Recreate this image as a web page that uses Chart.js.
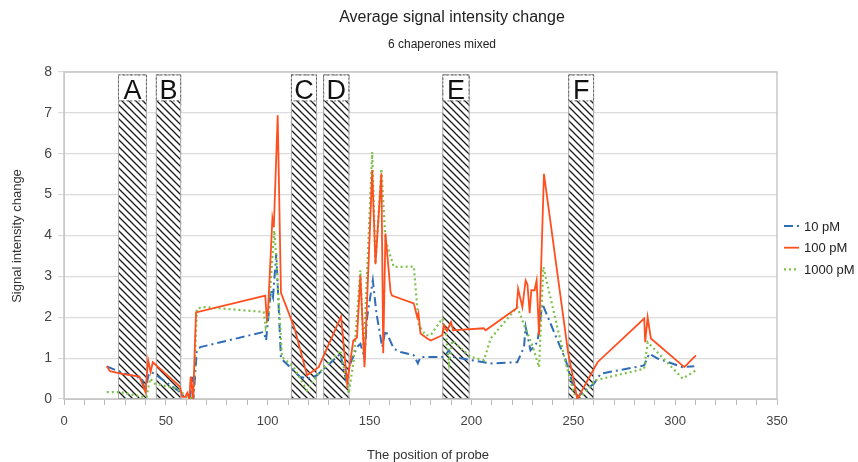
<!DOCTYPE html>
<html>
<head>
<meta charset="utf-8">
<script src="https://cdn.jsdelivr.net/npm/chart.js@4"></script>
<style>
  body { margin: 0; background: #fff; }
  canvas { display: block; }
</style>
</head>
<body>
<canvas id="chart" width="858" height="462"></canvas>
<script>
// probe positions and signal values
const pos10 = [21, 27.5, 38.2, 39.8, 41.5, 43, 56.2, 57.9, 62, 62.8, 63.6, 65.2, 66.9, 98, 99.2, 101.6, 102.6, 104.2, 104.8, 106.5, 116, 120, 124.2, 135.7, 138.2, 140.6, 143.8, 145.5, 147.5, 148.8, 151.6, 153.4, 156.2, 157.8, 161.9, 165.2, 171.7, 173.7, 175, 186.5, 189, 190.6, 209.4, 222.5, 225.8, 226.6, 229, 232.4, 234.8, 246.3, 249.6, 252, 260.2, 263.5, 284.8, 287.3, 291.4, 303.7, 309.4];
const val10 = [0.8, 0.66, 0.5, 0.21, 0.58, 0.66, 0.2, 0.09, 0.05, 0.54, 0.02, 1.19, 1.27, 1.64, 1.43, 2.66, 2.49, 3.56, 2.9, 0.99, 0.54, 0.5, 0.58, 1.11, 0.5, 0.87, 1.27, 1.35, 1.0, 2.0, 2.9, 2.09, 1.27, 1.68, 1.23, 1.15, 1.07, 0.87, 1.03, 1.03, 1.19, 1.03, 0.87, 0.9, 1.27, 1.76, 1.19, 1.39, 2.33, 0.95, 0.38, 0.05, 0.38, 0.62, 0.82, 1.11, 0.99, 0.78, 0.8];

const pos100 = [21, 22.6, 28, 37, 40, 41.3, 42.5, 43.6, 57, 58, 59.5, 60.5, 61.5, 62.2, 63.4, 64.8, 98.8, 99.5, 100.2, 102.3, 103, 104.9, 106.5, 113, 119.3, 125, 136, 139, 142, 143.8, 145.5, 147.5, 151.3, 152.9, 155.8, 156.7, 157.8, 160.3, 161, 171.7, 173.4, 174, 175, 178.3, 180, 185.7, 186.5, 188, 190, 191, 206, 207, 222.2, 222.9, 225, 226.6, 227.5, 228.6, 229.4, 231, 232, 233.2, 235.6, 247.5, 252, 261.9, 284.8, 285.3, 286.5, 288.1, 304.5, 310.2];
const val100 = [0.8, 0.68, 0.62, 0.55, 0.17, 0.95, 0.66, 0.9, 0.3, 0.05, 0.05, 0.15, 0, 0.55, 0, 2.12, 2.53, 2.0, 2.2, 4.42, 4.2, 6.94, 2.6, 1.76, 0.58, 0.78, 2.02, 0.38, 1.43, 1.5, 3.02, 0.78, 5.6, 3.3, 5.52, 1.12, 4.05, 2.62, 2.53, 2.34, 2.0, 2.1, 1.6, 1.48, 1.43, 1.56, 1.8, 1.67, 1.88, 1.68, 1.73, 1.68, 2.22, 2.7, 2.25, 2.9, 2.8, 2.1, 2.66, 2.66, 2.9, 1.56, 5.51, 1.12, 0.0, 0.9, 1.97, 1.39, 2.0, 1.48, 0.78, 1.07];

const pos1000 = [21, 27.5, 39, 40.5, 42.3, 44.7, 55.4, 60.3, 63.6, 65.2, 68.4, 98, 99, 100.4, 103.2, 104, 107, 112.7, 119.3, 124.2, 135.7, 138.2, 139.8, 142.2, 145.5, 147.1, 151.3, 152.9, 155.8, 157.8, 161.9, 171.7, 174.2, 177.5, 180, 185.7, 187.3, 189, 190.6, 199.6, 206.2, 209.4, 222.5, 225, 228.3, 230.7, 233.2, 235.3, 246.3, 250.4, 253.7, 261, 284.8, 286.5, 303.7, 310.2];
const val1000 = [0.17, 0.17, 0.05, 0.05, 0.5, 0.37, 0.26, 0.05, 0.02, 2.21, 2.25, 2.13, 1.76, 2.09, 4.12, 3.6, 1.03, 0.78, 0.21, 0.58, 1.19, 0.54, 0.13, 0.95, 3.15, 1.11, 6.04, 3.31, 5.63, 3.88, 3.23, 3.24, 1.8, 1.56, 1.56, 1.97, 1.68, 0.87, 1.43, 1.03, 0.95, 1.48, 2.25, 1.92, 1.52, 1.19, 0.78, 3.23, 0.87, 0.13, 0.05, 0.46, 0.74, 1.39, 0.5, 0.7];

// hatched regions
const regionLabels = ['A', 'B', 'C', 'D', 'E', 'F'];
const regionStart = [26.5, 45.1, 111.4, 127.2, 185.7, 247.5];
const regionEnd = [40.7, 57.5, 124.2, 140.1, 199.1, 260.2];
const regionTop = 7.94;

const seriesNames = ['10 pM', '100 pM', '1000 pM'];

const FONT = '"Liberation Sans", Arial, sans-serif';
Chart.defaults.font.family = FONT;
Chart.defaults.font.size = 13;
Chart.defaults.color = '#333';

const toPoints = (xs, ys) => xs.map((v, i) => ({ x: v, y: ys[i] }));

function makeHatch(ctx) {
    const c = document.createElement('canvas');
    c.width = c.height = 7;
    const g = c.getContext('2d');
    g.strokeStyle = '#1a1a1a';
    g.lineWidth = 1.3;
    g.beginPath();
    g.moveTo(-1, -1); g.lineTo(8, 8);
    g.moveTo(-1, 6); g.lineTo(1, 8);
    g.moveTo(6, -1); g.lineTo(8, 1);
    g.stroke();
    return ctx.createPattern(c, 'repeat');
}

const decor = {
    id: 'decor',
    beforeDatasetsDraw(chart) {
        const { ctx, chartArea: a, scales: { x, y } } = chart;
        ctx.save();
        ctx.strokeStyle = '#c8c8c8';
        ctx.lineWidth = 1.5;
        ctx.strokeRect(a.left, a.top, a.right - a.left, a.bottom - a.top);

        const hatch = makeHatch(ctx);
        const t = y.getPixelForValue(regionTop), b = y.getPixelForValue(0);
        regionLabels.forEach((lab, i) => {
            const l = x.getPixelForValue(regionStart[i]);
            const r = x.getPixelForValue(regionEnd[i]);
            ctx.fillStyle = '#fff';
            ctx.fillRect(l, t, r - l, b - t);
            ctx.fillStyle = hatch;
            ctx.fillRect(l, t, r - l, b - t);
            ctx.setLineDash([]);
            ctx.strokeStyle = '#aaa';
            ctx.lineWidth = 1;
            ctx.strokeRect(l + 0.5, t + 0.5, r - l - 1, b - t - 1);
            // label box
            ctx.fillStyle = '#fff';
            ctx.fillRect(l + 1, t + 1, r - l - 2, 25);
            ctx.setLineDash([2, 2]);
            ctx.strokeStyle = '#666';
            ctx.strokeRect(l + 0.5, t + 0.5, r - l - 1, 26);
            ctx.setLineDash([]);
            ctx.fillStyle = '#111';
            ctx.font = '27px ' + FONT;
            ctx.textAlign = 'center';
            ctx.textBaseline = 'alphabetic';
            ctx.fillText(lab, (l + r) / 2, t + 25);
        });
        ctx.restore();
    },
    afterDraw(chart) {
        const { ctx } = chart;
        ctx.save();
        ctx.fillStyle = '#222';
        ctx.textAlign = 'center';
        ctx.textBaseline = 'middle';
        ctx.font = '16px ' + FONT;
        ctx.fillText('Average signal intensity change', 452, 18);
        ctx.font = '12px ' + FONT;
        ctx.fillText('6 chaperones mixed', 442, 45);

        ctx.font = '13px ' + FONT;
        ctx.fillStyle = '#333';
        ctx.fillText('The position of probe', 428, 455);
        ctx.save();
        ctx.translate(17, 236);
        ctx.rotate(-Math.PI / 2);
        ctx.fillText('Signal intensity change', 0, 0);
        ctx.restore();

        // legend
        ctx.textAlign = 'left';
        chart.data.datasets.forEach((ds, i) => {
            const yy = 226 + i * 21.7;
            ctx.strokeStyle = ds.borderColor;
            ctx.lineWidth = ds.borderWidth;
            ctx.setLineDash(ds.borderDash || []);
            ctx.beginPath();
            ctx.moveTo(784, yy);
            ctx.lineTo(799, yy);
            ctx.stroke();
            ctx.setLineDash([]);
            ctx.fillStyle = '#222';
            ctx.fillText(ds.label, 804, yy + 1);
        });
        ctx.restore();
    }
};

new Chart(document.getElementById('chart'), {
    type: 'line',
    data: {
        datasets: [{
            label: seriesNames[0],
            data: toPoints(pos10, val10),
            borderColor: '#2f6db5',
            borderWidth: 2,
            borderDash: [9, 4, 2, 4],
            order: 2
        }, {
            label: seriesNames[1],
            data: toPoints(pos100, val100),
            borderColor: '#ff4f1f',
            borderWidth: 1.8,
            order: 0
        }, {
            label: seriesNames[2],
            data: toPoints(pos1000, val1000),
            borderColor: '#7cc14a',
            borderWidth: 2.2,
            borderDash: [2, 3],
            order: 1
        }]
    },
    options: {
        responsive: false,
        animation: false,
        elements: { point: { radius: 0 }, line: { tension: 0 } },
        layout: { padding: { top: 72, right: 81, left: 0, bottom: 0 } },
        plugins: { legend: { display: false }, title: { display: false }, tooltip: { enabled: false } },
        scales: {
            x: {
                type: 'linear',
                min: 0,
                max: 350,
                afterFit: s => { s.height = 63; },
                grid: { drawOnChartArea: false, tickLength: 6, color: '#bbb' },
                border: { color: '#c8c8c8' },
                ticks: {
                    stepSize: 10,
                    autoSkip: false,
                    maxRotation: 0,
                    padding: 9,
                    color: '#444',
                    callback: v => (v % 50 === 0 ? v : '')
                }
            },
            y: {
                min: 0,
                max: 8,
                afterFit: s => { s.width = 64; },
                grid: { color: '#dcdcdc', tickLength: 6, lineWidth: 1.2 },
                border: { color: '#c8c8c8' },
                ticks: { stepSize: 1, padding: 6, color: '#444', font: { size: 14 } }
            }
        }
    },
    plugins: [decor]
});
</script>
</body>
</html>
